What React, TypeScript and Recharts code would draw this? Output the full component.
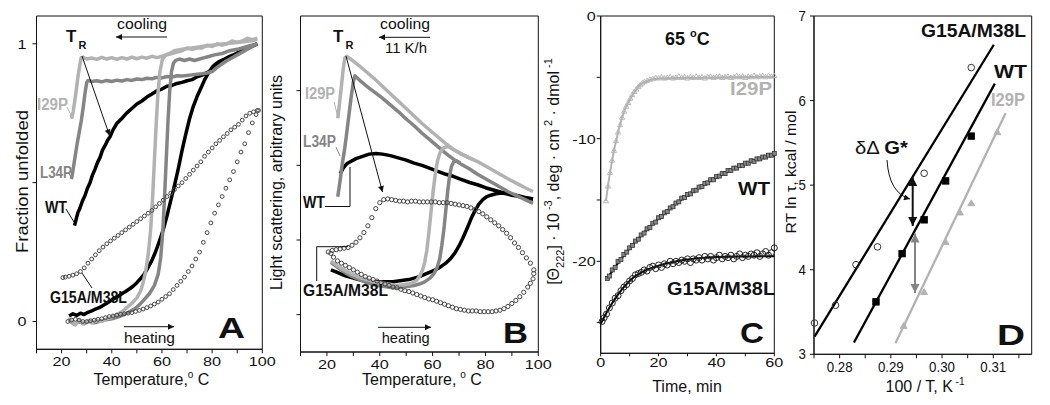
import React from 'react';
import { ComposedChart, Line, Scatter, XAxis, YAxis, ReferenceArea } from 'recharts';

const W = 1050;
const H = 405;
const FONT = "'Liberation Sans', Arial, Helvetica, sans-serif";
const LIGHT = '#b2b2b2';
const MID = '#858585';
const INK = '#111';

type Pt = [number, number];

// ---------- Panel A: fraction unfolded vs temperature ----------
const aI29PCool: Pt[] = [
  [98, 1.02], [96, 1.015], [94, 1.02], [92, 1.01], [90, 1.005], [88, 1.01], [86, 1.0], [84, 0.995],
  [82, 1.0], [80, 0.99], [78, 0.995], [76, 0.985], [74, 0.985], [72, 0.98], [70, 0.985], [68, 0.975],
  [66, 0.97], [64, 0.965], [62, 0.96], [60, 0.955], [58, 0.95], [56, 0.955], [54, 0.948], [52, 0.952],
  [50, 0.946], [48, 0.952], [46, 0.945], [44, 0.95], [42, 0.944], [40, 0.95], [38, 0.945], [36, 0.951],
  [34, 0.944], [32, 0.949], [30, 0.945], [28.5, 0.952], [27.8, 0.95], [27.2, 0.92], [26.5, 0.88],
  [25.8, 0.83], [25.2, 0.79], [24.6, 0.755], [24.1, 0.735], [23.9, 0.745],
];
const aI29PHeat: Pt[] = [
  [22.5, 0.012], [24, 0.0], [25.5, -0.012], [27, 0.005], [28.5, -0.008], [30, 0.0], [32, -0.005],
  [34, 0.004], [36, 0.0], [38, 0.01], [40, 0.015], [42, 0.025], [44, 0.035], [46, 0.05], [48, 0.065],
  [50, 0.085], [51.5, 0.11], [52.5, 0.14], [53.5, 0.18], [54.5, 0.24], [55.5, 0.33], [56.3, 0.45],
  [57, 0.58], [57.7, 0.71], [58.4, 0.82], [59.2, 0.9], [60.2, 0.945], [61.5, 0.96], [63, 0.965],
  [65, 0.975], [68, 0.98], [72, 0.985], [76, 0.99], [80, 0.995], [85, 1.0], [90, 1.005], [95, 1.01], [98, 1.015],
];
const aL34PCool: Pt[] = [
  [98, 1.0], [96, 0.99], [94, 0.98], [92, 0.97], [90, 0.96], [88, 0.95], [86, 0.94], [84, 0.928],
  [82, 0.915], [80, 0.9], [78, 0.895], [76, 0.892], [74, 0.89], [72, 0.888], [70, 0.886], [68, 0.884],
  [66, 0.885], [64, 0.88], [62, 0.882], [60, 0.877], [58, 0.879], [56, 0.874], [54, 0.876], [52, 0.871],
  [50, 0.873], [48, 0.868], [46, 0.871], [44, 0.866], [42, 0.869], [40, 0.864], [38, 0.868], [36, 0.863],
  [34, 0.867], [32, 0.864], [30.5, 0.868], [30, 0.86], [29.3, 0.82], [28.6, 0.77], [27.8, 0.72],
  [27, 0.68], [26.2, 0.64], [25.5, 0.6], [24.8, 0.56], [24.2, 0.525], [23.9, 0.513],
];
const aL34PHeat: Pt[] = [
  [23, 0.005], [25, -0.01], [27, 0.0], [29, -0.008], [31, 0.002], [33, -0.005], [35, 0.0], [37, 0.005],
  [39, 0.008], [41, 0.012], [43, 0.018], [45, 0.025], [47, 0.035], [49, 0.045], [51, 0.06], [53, 0.08],
  [55, 0.1], [57, 0.13], [58.5, 0.17], [59.5, 0.23], [60.3, 0.32], [61, 0.44], [61.7, 0.58], [62.4, 0.72],
  [63.1, 0.83], [63.8, 0.9], [64.6, 0.93], [65.5, 0.94], [67, 0.945], [69, 0.94], [71, 0.945], [73, 0.94],
  [75, 0.945], [77, 0.95], [79, 0.955], [81, 0.96], [84, 0.965], [87, 0.975], [90, 0.98], [94, 0.99], [98, 1.0],
];
const aWTCool: Pt[] = [
  [98, 1.0], [96, 0.993], [94, 0.985], [92, 0.975], [90, 0.966], [88, 0.955], [86, 0.946], [84, 0.932],
  [82, 0.921], [80, 0.905], [78, 0.896], [76, 0.887], [74, 0.881], [72, 0.871], [70, 0.867], [68, 0.861],
  [66, 0.857], [64, 0.85], [62, 0.847], [60, 0.837], [58, 0.831], [56, 0.819], [54, 0.808], [52, 0.794],
  [50, 0.783], [48, 0.767], [46, 0.751], [44, 0.731], [42, 0.713], [40.5, 0.69], [39.3, 0.665],
  [38.3, 0.652], [37.3, 0.633], [36.3, 0.617], [35.3, 0.59], [34.3, 0.572], [33.3, 0.548], [32.3, 0.527],
  [31.3, 0.499], [30.3, 0.48], [29.3, 0.453], [28.3, 0.434], [27.3, 0.408], [26.5, 0.392], [25.8, 0.368],
  [25.3, 0.35], [25.1, 0.345],
];
const aWTHeat: Pt[] = [
  [23, 0.02], [24.5, 0.028], [26, 0.022], [27.5, 0.03], [29, 0.025], [30.5, 0.033], [32, 0.038],
  [33.5, 0.045], [35, 0.05], [36.5, 0.058], [38, 0.066], [39.5, 0.075], [41, 0.083], [42.5, 0.09],
  [44, 0.1], [45.5, 0.108], [47, 0.117], [48.5, 0.127], [50, 0.14], [51.5, 0.155], [53, 0.172],
  [54.5, 0.195], [56, 0.22], [57.5, 0.252], [59, 0.29], [60.5, 0.33], [62, 0.38], [63.5, 0.435],
  [65, 0.49], [66.5, 0.55], [68, 0.615], [69.5, 0.675], [71, 0.73], [72.5, 0.775], [74, 0.81],
  [75.5, 0.84], [77, 0.87], [78.5, 0.895], [80, 0.915], [81.5, 0.928], [83, 0.937], [85, 0.945],
  [87, 0.955], [89, 0.962], [91, 0.97], [93, 0.978], [95, 0.987], [97, 0.995], [98, 1.0],
];
const aG15AHeat: Pt[] = [
  [22.5, 0.0], [24, 0.005], [25.5, 0.008], [27, 0.005], [28.5, 0.0], [30, 0.0], [31.5, 0.003], [33, 0.005],
  [34.5, 0.008], [36, 0.01], [37.5, 0.014], [39, 0.018], [40.5, 0.02], [42, 0.023], [43.5, 0.026],
  [45, 0.028], [46.5, 0.03], [48, 0.032], [49.5, 0.036], [51, 0.04], [52.5, 0.045], [54, 0.05],
  [55.5, 0.056], [57, 0.063], [58.5, 0.07], [60, 0.08], [61.5, 0.09], [63, 0.1], [64.5, 0.115],
  [66, 0.13], [67.5, 0.145], [69, 0.16], [70.5, 0.18], [72, 0.2], [73.5, 0.225], [75, 0.25],
  [76.5, 0.285], [78, 0.32], [79.5, 0.355], [81, 0.39], [82.5, 0.42], [84, 0.45], [85.5, 0.48],
  [87, 0.51], [88.5, 0.54], [90, 0.575], [91.5, 0.61], [93, 0.64], [94.5, 0.68], [96, 0.715],
  [97.5, 0.745], [98.5, 0.76],
];
const aG15ACool: Pt[] = [
  [98, 0.76], [96.5, 0.755], [95, 0.75], [93.5, 0.74], [92, 0.725], [90.5, 0.71], [89, 0.7], [87.5, 0.69],
  [86, 0.677], [84.5, 0.665], [83, 0.652], [81.5, 0.64], [80, 0.625], [78.5, 0.61], [77, 0.595],
  [75.5, 0.575], [74, 0.56], [72.5, 0.545], [71, 0.53], [69.5, 0.515], [68, 0.5], [66.5, 0.488],
  [65, 0.475], [63.5, 0.462], [62, 0.45], [60.5, 0.437], [59, 0.425], [57.5, 0.413], [56, 0.4],
  [54.5, 0.39], [53, 0.38], [51.5, 0.37], [50, 0.36], [48.5, 0.35], [47, 0.34], [45.5, 0.33], [44, 0.32],
  [42.5, 0.31], [41, 0.3], [39.5, 0.29], [38, 0.28], [36.5, 0.268], [35, 0.255], [33.5, 0.24],
  [32, 0.225], [30.5, 0.21], [29, 0.193], [27.5, 0.18], [26, 0.172], [24.5, 0.167], [23, 0.163],
  [21.5, 0.16], [20.5, 0.158],
];

// ---------- Panel B: light scattering vs temperature ----------
const bI29PCool: Pt[] = [
  [98, 2.65], [95, 2.7], [92, 2.755], [89, 2.81], [86, 2.87], [83, 2.93], [80, 2.99], [77, 3.05],
  [74, 3.1], [71, 3.15], [68, 3.21], [65, 3.29], [62, 3.38], [59, 3.47], [56, 3.56], [53, 3.66],
  [50, 3.76], [47, 3.86], [44, 3.96], [41, 4.06], [38, 4.16], [35, 4.25], [32, 4.34], [29.5, 4.41],
  [27.5, 4.46], [26.8, 4.44], [26.2, 4.3], [25.6, 4.1], [25, 3.9], [24.5, 3.75], [24.1, 3.63],
];
const bI29PHeat: Pt[] = [
  [21.5, 1.72], [23, 1.68], [25, 1.63], [27, 1.59], [29, 1.55], [31, 1.52], [33, 1.49], [35, 1.47],
  [37, 1.45], [39, 1.43], [41, 1.42], [43, 1.41], [45, 1.4], [47, 1.39], [49, 1.4], [51, 1.41],
  [52.5, 1.43], [54, 1.46], [55.2, 1.52], [56.2, 1.6], [57, 1.7], [57.8, 1.86], [58.6, 2.1],
  [59.4, 2.38], [60.2, 2.65], [61, 2.88], [61.8, 3.05], [62.8, 3.17], [64, 3.23], [65.3, 3.25],
  [66.5, 3.24], [68, 3.21], [70, 3.17], [72, 3.13], [75, 3.08],
];
const bL34PCool: Pt[] = [
  [98, 2.49], [95, 2.54], [92, 2.59], [89, 2.64], [86, 2.7], [83, 2.76], [80, 2.82], [77, 2.88],
  [74, 2.95], [71, 3.01], [68, 3.08], [65, 3.16], [62, 3.25], [59, 3.34], [56, 3.43], [53, 3.53],
  [50, 3.62], [47, 3.72], [44, 3.81], [41, 3.9], [38, 3.98], [35, 4.06], [33, 4.12], [31.5, 4.17],
  [30.6, 4.2], [30, 4.12], [29.3, 3.95], [28.6, 3.75], [27.9, 3.55], [27.2, 3.35], [26.5, 3.17],
  [25.8, 3.02], [25.2, 2.85], [24.6, 2.7], [24.1, 2.58],
];
const bL34PHeat: Pt[] = [
  [21.5, 1.7], [23, 1.66], [25, 1.61], [27, 1.56], [29, 1.52], [31, 1.49], [33, 1.46], [35, 1.43],
  [37, 1.41], [39, 1.39], [41, 1.38], [43, 1.37], [45, 1.36], [47, 1.36], [49, 1.37], [51, 1.38],
  [53, 1.39], [55, 1.41], [57, 1.44], [59, 1.49], [60.5, 1.55], [61.7, 1.63], [62.7, 1.75],
  [63.5, 1.93], [64.3, 2.15], [65, 2.4], [65.7, 2.65], [66.4, 2.85], [67.1, 2.98], [68, 3.05],
  [69, 3.06], [70.5, 3.03],
];
const bWTCool: Pt[] = [
  [98, 2.55], [95, 2.57], [92, 2.595], [89, 2.62], [86, 2.64], [83, 2.67], [80, 2.7], [77, 2.74],
  [74, 2.77], [71, 2.81], [68, 2.85], [65, 2.88], [62, 2.92], [59, 2.96], [56, 3.0], [53, 3.03],
  [50, 3.07], [47, 3.1], [44, 3.13], [41, 3.15], [38.5, 3.16], [36, 3.15], [33.5, 3.12], [31, 3.09],
  [29, 3.05], [27.5, 3.02], [26.3, 2.97], [25.5, 2.92], [25, 2.89],
];
const bWTHeat: Pt[] = [
  [21.5, 1.6], [23, 1.58], [25, 1.55], [27, 1.52], [29, 1.5], [31, 1.48], [33, 1.46], [35, 1.45],
  [37, 1.44], [39, 1.44], [41, 1.44], [43, 1.44], [45, 1.44], [47, 1.45], [49, 1.46], [51, 1.47],
  [53, 1.49], [55, 1.51], [57, 1.54], [59, 1.57], [61, 1.6], [63, 1.64], [65, 1.69], [67, 1.76],
  [68.5, 1.83], [70, 1.92], [71.5, 2.03], [73, 2.15], [74.5, 2.28], [76, 2.39], [77.5, 2.48],
  [79, 2.54], [80.5, 2.58], [82, 2.6], [84, 2.62], [86, 2.63], [88, 2.62], [90, 2.6], [92, 2.59],
  [94, 2.57], [96, 2.56], [98, 2.55],
];
const bG15AUp: Pt[] = [
  [20.5, 1.84], [22, 1.86], [23.5, 1.87], [25, 1.88], [26.5, 1.89], [28, 1.9], [29.5, 1.93], [31, 1.97],
  [32.5, 2.03], [34, 2.1], [35.5, 2.19], [37, 2.3], [38.5, 2.42], [40, 2.5], [41.5, 2.54], [43, 2.55],
  [44.5, 2.54], [46, 2.53], [47.5, 2.52], [49, 2.52], [50.5, 2.51], [52, 2.52], [53.5, 2.52],
  [55, 2.51], [56.5, 2.51], [58, 2.51], [59.5, 2.51], [61, 2.51], [62.5, 2.5], [64, 2.5], [65.5, 2.5],
  [67, 2.49], [68.5, 2.48], [70, 2.47], [71.5, 2.46], [73, 2.45], [74.5, 2.43], [76, 2.41],
  [77.5, 2.38], [79, 2.35], [80.5, 2.31], [82, 2.27], [83.5, 2.23], [85, 2.19], [86.5, 2.14],
  [88, 2.09], [89.5, 2.03], [91, 1.96], [92.5, 1.9], [94, 1.83], [95.5, 1.76], [97, 1.69], [98.3, 1.6],
];
const bG15ADown: Pt[] = [
  [98.3, 1.55], [98, 1.48], [97, 1.42], [96, 1.37], [94.5, 1.3], [93, 1.24], [91.5, 1.19], [90, 1.15],
  [88.5, 1.11], [87, 1.08], [85.5, 1.06], [84, 1.05], [82.5, 1.04], [81, 1.04], [79.5, 1.04],
  [78, 1.04], [76.5, 1.05], [75, 1.05], [73.5, 1.05], [72, 1.06], [70.5, 1.07], [69, 1.08],
  [67.5, 1.1], [66, 1.12], [64.5, 1.14], [63, 1.16], [61.5, 1.18], [60, 1.2], [58.5, 1.21],
  [57, 1.23], [55.5, 1.25], [54, 1.27], [52.5, 1.29], [51, 1.31], [49.5, 1.32], [48, 1.34],
  [46.5, 1.36], [45, 1.37], [43.5, 1.39], [42, 1.41], [40.5, 1.43], [39, 1.45], [37.5, 1.47],
  [36, 1.49], [34.5, 1.51], [33, 1.54], [31.5, 1.57], [30, 1.6], [28.5, 1.63], [27, 1.66],
  [25.5, 1.69], [24, 1.72], [22.5, 1.77], [21.5, 1.82],
];

// ---------- Panel C: ellipticity kinetics at 65 °C ----------
const cI29PData: Pt[] = [
  [1.8, -15.1], [2.5, -13.9], [3.2, -12.8], [3.9, -11.8], [4.6, -11.0], [5.3, -10.2], [6, -9.5],
  [6.7, -8.9], [7.4, -8.3], [8.1, -7.8], [8.8, -7.4], [9.5, -7.1], [10.2, -6.75], [10.9, -6.45],
  [11.6, -6.2], [12.3, -6.0], [13, -5.8], [13.7, -5.65], [14.4, -5.5], [15.1, -5.4], [16, -5.3],
  [17, -5.2], [18, -5.15], [19, -5.05], [20, -5.1], [21, -5.0], [22, -5.1], [23, -5.05], [24, -5.0],
  [25, -5.1], [26, -5.05], [27, -4.95], [28, -5.05], [29, -5.0], [30, -5.1], [31, -5.0], [32, -5.05],
  [33, -4.95], [34, -5.05], [35, -5.0], [36, -5.1], [37, -5.0], [38, -4.95], [39, -5.05], [40, -5.0],
  [41, -4.95], [42, -5.05], [43, -5.0], [44, -4.95], [45, -5.05], [46, -5.0], [47, -4.9], [48, -5.0],
  [49, -4.95], [50, -5.05], [51, -4.95], [52, -5.0], [53, -4.9], [54, -5.0], [55, -4.95], [56, -4.9],
  [57, -5.0], [58, -4.9], [59, -4.95], [60, -4.9],
];
const cI29PFit: Pt[] = [
  [1.8, -15.1], [3, -13.1], [4.5, -11.1], [6, -9.5], [8, -7.85], [10, -6.85], [12, -6.1], [14, -5.55],
  [16, -5.3], [20, -5.1], [30, -5.05], [45, -5.0], [60, -4.95],
];
const cWTData: Pt[] = [
  [2.3, -21.4], [3, -21.2], [4, -20.7], [5, -20.5], [6, -20.0], [7, -19.85], [8, -19.45], [9, -19.25],
  [10, -18.9], [11, -18.7], [12, -18.35], [13, -18.2], [14, -17.85], [15, -17.7], [16, -17.35],
  [17, -17.25], [18, -16.9], [19, -16.8], [20, -16.45], [21, -16.35], [22, -16.05], [23, -15.95],
  [24, -15.65], [25, -15.55], [26, -15.25], [27, -15.15], [28, -14.85], [29, -14.8], [30, -14.55],
  [31, -14.5], [32, -14.25], [33, -14.2], [34, -13.95], [35, -13.9], [36, -13.65], [37, -13.6],
  [38, -13.35], [39, -13.35], [40, -13.1], [41, -13.05], [42, -12.85], [43, -12.85], [44, -12.6],
  [45, -12.6], [46, -12.4], [47, -12.4], [48, -12.2], [49, -12.2], [50, -12.0], [51, -12.0],
  [52, -11.8], [53, -11.85], [54, -11.65], [55, -11.65], [56, -11.5], [57, -11.5], [58, -11.35],
  [59, -11.35], [60, -11.2],
];
const cWTFit: Pt[] = [
  [2, -21.5], [5, -20.45], [10, -18.95], [15, -17.65], [20, -16.5], [25, -15.5], [30, -14.6],
  [35, -13.85], [40, -13.15], [45, -12.55], [50, -12.05], [55, -11.6], [60, -11.25],
];
const cG15AData: Pt[] = [
  [0.5, -24.9], [1.2, -24.6], [2, -24.3], [3, -23.8], [4, -23.4], [5, -23.0], [6, -22.8], [7, -22.4],
  [8, -22.1], [9, -21.9], [10, -21.6], [11, -21.4], [12, -21.1], [13, -21.0], [14, -20.9], [15, -20.7],
  [16, -20.8], [17, -20.5], [18, -20.4], [19, -20.6], [20, -20.3], [21, -20.5], [22, -20.2],
  [23, -20.3], [24, -20.0], [25, -20.2], [26, -20.0], [27, -20.1], [28, -19.9], [29, -20.0],
  [30, -19.8], [31, -20.1], [32, -19.8], [33, -19.9], [34, -19.7], [35, -19.9], [36, -19.6],
  [37, -19.8], [38, -19.6], [39, -19.9], [40, -19.7], [41, -19.5], [42, -19.8], [43, -19.6],
  [44, -19.7], [45, -19.5], [46, -19.8], [47, -19.6], [48, -19.4], [49, -19.7], [50, -19.5],
  [51, -19.6], [52, -19.4], [53, -19.5], [54, -19.3], [55, -19.6], [56, -19.4], [57, -19.2],
  [58, -19.5], [59, -19.3], [60, -18.9],
];
const cG15AFit: Pt[] = [
  [0, -25.1], [2, -24.2], [4, -23.4], [6, -22.7], [8, -22.1], [10, -21.6], [12, -21.2], [15, -20.8],
  [20, -20.35], [25, -20.05], [30, -19.85], [35, -19.72], [40, -19.65], [50, -19.6], [60, -19.58],
];

// ---------- Panel D: RT ln tau vs 100/T ----------
const dG15APts: Pt[] = [[0.2751, 3.37], [0.2792, 3.58], [0.2832, 4.06], [0.2874, 4.27], [0.2965, 5.14], [0.3057, 6.39]];
const dG15AFit: Pt[] = [[0.2751, 3.21], [0.3101, 6.66]];
const dWTPts: Pt[] = [[0.2871, 3.62], [0.2922, 4.19], [0.2965, 4.59], [0.3007, 5.05], [0.3057, 5.58]];
const dWTFit: Pt[] = [[0.2828, 3.14], [0.3103, 6.2]];
const dI29PPts: Pt[] = [[0.2925, 3.33], [0.2965, 3.73], [0.3007, 4.32], [0.3035, 4.67], [0.3057, 4.78], [0.3108, 5.62]];
const dI29PFit: Pt[] = [[0.2909, 3.13], [0.3124, 5.85]];

// axis ticks
const tempTicks = [10, 20, 30, 40, 50, 60, 70, 80, 90, 100];
const aYTicks = [0, 0.5, 1];
const bYTicks = [1, 2, 3, 4];
const cXTicks = [0, 10, 20, 30, 40, 50, 60];
const cYTicks = [-25, -20, -15, -10, -5, 0];
const dXTicks = [0.275, 0.28, 0.285, 0.29, 0.295, 0.3, 0.305, 0.31, 0.315];
const dYTicks = [3, 4, 5, 6, 7];

const xy = (pts: Pt[]) => pts.map(([x, y]) => ({ x, y }));

// plot rectangles (px) and domains
type Box = { l: number; r: number; t: number; b: number; xd: [number, number]; yd: [number, number] };
const boxA: Box = { l: 36.5, r: 262.3, t: 16, b: 349.3, xd: [10, 100], yd: [-0.1, 1.1] };
const boxB: Box = { l: 300.5, r: 538.3, t: 16, b: 352, xd: [10, 100], yd: [0.5, 5] };
const boxC: Box = { l: 600.7, r: 774.3, t: 16, b: 353.3, xd: [0, 60], yd: [-27.5, 0] };
const boxD: Box = { l: 814, r: 1031.7, t: 16, b: 354.3, xd: [0.275, 0.3175], yd: [3, 7] };

const AXW = 30; // y-axis width
const AXH = 30; // x-axis height

type Fmt = (v: number) => string;

// tick labels in the source are a little wider than Arial, so stretch them horizontally
const xTickLabel = (fmt: Fmt, size: number, sx: number) => (p: any) => (
  <text transform={`translate(${p.x},${p.y}) scale(${sx},1)`} textAnchor="middle" dy="0.71em" fontSize={size} fill={INK}>
    {fmt(p.payload.value)}
  </text>
);
const yTickLabel = (fmt: Fmt, size: number, sx: number) => (p: any) => (
  <text transform={`translate(${p.x},${p.y}) scale(${sx},1)`} textAnchor="end" dy="0.36em" fontSize={size} fill={INK}>
    {fmt(p.payload.value)}
  </text>
);

const openCircle = (r: number, stroke: string) => (p: any) => (
  <circle cx={p.cx} cy={p.cy} r={r} fill="none" stroke={stroke} strokeWidth={1} />
);
const square = (s: number, fill: string, stroke: string) => (p: any) => (
  <rect x={p.cx - s / 2} y={p.cy - s / 2} width={s} height={s} fill={fill} stroke={stroke} strokeWidth={0.8} />
);
const triangle = (s: number, fill: string, stroke: string) => (p: any) => (
  <polygon
    points={`${p.cx},${p.cy - s} ${p.cx - s * 0.87},${p.cy + s / 2} ${p.cx + s * 0.87},${p.cy + s / 2}`}
    fill={fill}
    stroke={stroke}
    strokeWidth={0.9}
  />
);

type PanelProps = {
  box: Box;
  xTicks: number[];
  yTicks: number[];
  xFmt: Fmt;
  yFmt: Fmt;
  xTick: [number, number];
  yTick: [number, number];
  font: [number, number];
  children: React.ReactNode;
};

function Panel({ box, xTicks, yTicks, xFmt, yFmt, xTick, yTick, font, children }: PanelProps) {
  return (
    <div style={{ position: 'absolute', left: 0, top: 0 }}>
      <ComposedChart
        width={W}
        height={H}
        margin={{ top: box.t, left: box.l - AXW, right: W - box.r, bottom: H - box.b - AXH }}
      >
        <XAxis
          type="number"
          dataKey="x"
          domain={box.xd}
          ticks={xTicks}
          interval={0}
          height={AXH}
          tickSize={xTick[0]}
          tickMargin={xTick[1]}
          tick={xTickLabel(xFmt, font[0], font[1])}
          tickLine={{ stroke: INK }}
          axisLine={{ stroke: INK }}
        />
        <YAxis
          type="number"
          dataKey="y"
          domain={box.yd}
          ticks={yTicks}
          interval={0}
          width={AXW}
          tickSize={yTick[0]}
          tickMargin={yTick[1]}
          tick={yTickLabel(yFmt, font[0], font[1])}
          tickLine={{ stroke: INK }}
          axisLine={{ stroke: INK }}
        />
        {children}
        <ReferenceArea
          x1={box.xd[0]}
          x2={box.xd[1]}
          y1={box.yd[0]}
          y2={box.yd[1]}
          fill="none"
          fillOpacity={0}
          stroke={INK}
          strokeWidth={1}
          ifOverflow="visible"
        />
      </ComposedChart>
    </div>
  );
}

const curve = (pts: Pt[], stroke: string, width: number, type: 'linear' | 'monotone' = 'linear') => (
  <Line
    data={xy(pts)}
    dataKey="y"
    type={type}
    stroke={stroke}
    strokeWidth={width}
    strokeLinejoin="round"
    dot={false}
    activeDot={false}
    isAnimationActive={false}
  />
);

function Txt(props: {
  x: number; y: number; s: number; w?: number; bold?: boolean; fill?: string;
  anchor?: 'start' | 'middle' | 'end'; rot?: boolean; children: React.ReactNode;
}) {
  const { x, y, s, w, bold, fill = INK, anchor = 'start', rot, children } = props;
  return (
    <text
      x={x}
      y={y}
      fontSize={s}
      fontWeight={bold ? 'bold' : 'normal'}
      fill={fill}
      textAnchor={anchor}
      textLength={w}
      lengthAdjust={w ? 'spacingAndGlyphs' : undefined}
      transform={rot ? `rotate(-90 ${x} ${y})` : undefined}
    >
      {children}
    </text>
  );
}

function Overlay() {
  const ln = { stroke: INK, strokeWidth: 1 };
  return (
    <svg width={W} height={H} style={{ position: 'absolute', left: 0, top: 0, pointerEvents: 'none' }}>
      <defs>
        <marker id="ah" viewBox="0 0 10 10" refX="10" refY="5" markerUnits="userSpaceOnUse" markerWidth="8" markerHeight="6" orient="auto-start-reverse">
          <path d="M0,0 L10,5 L0,10 z" fill={INK} />
        </marker>
        <marker id="ahBig" viewBox="0 0 10 10" refX="10" refY="5" markerUnits="userSpaceOnUse" markerWidth="9" markerHeight="9" orient="auto-start-reverse">
          <path d="M0,0 L10,5 L0,10 z" fill={INK} />
        </marker>
        <marker id="ahGray" viewBox="0 0 10 10" refX="10" refY="5" markerUnits="userSpaceOnUse" markerWidth="9" markerHeight="9" orient="auto-start-reverse">
          <path d="M0,0 L10,5 L0,10 z" fill={MID} />
        </marker>
      </defs>

      {/* Panel A */}
      <Txt x={66} y={42} s={17} bold>T</Txt>
      <Txt x={78.5} y={48.5} s={11} bold>R</Txt>
      <Txt x={117} y={29} s={15} w={50}>cooling</Txt>
      <line x1={167} y1={37} x2={116} y2={37} {...ln} markerEnd="url(#ah)" />
      <line x1={82} y1={56} x2={109.5} y2={135.5} {...ln} markerEnd="url(#ah)" />
      <Txt x={37} y={110} s={16} w={31} bold fill={LIGHT}>I29P</Txt>
      <line x1={67} y1={107} x2={71.5} y2={116} stroke={LIGHT} strokeWidth={1} />
      <Txt x={40} y={178} s={16} w={32} bold fill={MID}>L34P</Txt>
      <line x1={68.5} y1={172} x2={71} y2={178} stroke={MID} strokeWidth={1} />
      <Txt x={45} y={213} s={16} w={22} bold>WT</Txt>
      <line x1={66} y1={209} x2={74} y2={222} {...ln} />
      <Txt x={50} y={303} s={16} w={77} bold>G15A/M38L</Txt>
      <line x1={82} y1={273} x2={92} y2={288} {...ln} />
      <Txt x={124} y={343} s={15} w={51}>heating</Txt>
      <line x1={124} y1={326.7} x2={174} y2={326.7} {...ln} markerEnd="url(#ah)" />
      <Txt x={218} y={338} s={30} w={27} bold>A</Txt>
      <Txt x={28} y={181.5} s={16} w={143} anchor="middle" rot>Fraction unfolded</Txt>
      <text x={151.5} y={385} fontSize={16} textAnchor="middle" fill={INK}>
        Temperature,<tspan dy={-7} fontSize={10}>o</tspan><tspan dy={7}> C</tspan>
      </text>

      {/* Panel B */}
      <Txt x={333} y={42} s={17} bold>T</Txt>
      <Txt x={345.5} y={49} s={11} bold>R</Txt>
      <Txt x={380} y={29} s={15} w={50}>cooling</Txt>
      <line x1={430} y1={37.3} x2={379} y2={37.3} {...ln} markerEnd="url(#ah)" />
      <Txt x={385} y={52.5} s={15} w={42}>11 K/h</Txt>
      <line x1={346} y1={56} x2={382.5} y2={192} {...ln} markerEnd="url(#ah)" />
      <Txt x={305} y={99} s={16} w={30} bold fill={LIGHT}>I29P</Txt>
      <line x1={334} y1={102} x2={338} y2={117} stroke={LIGHT} strokeWidth={1} />
      <Txt x={303} y={146.5} s={16} w={33} bold fill={MID}>L34P</Txt>
      <line x1={336} y1={147} x2={340} y2={156} stroke={MID} strokeWidth={1} />
      <Txt x={303} y={208} s={16} w={22} bold>WT</Txt>
      <path d="M325,206.5 H350 V167" fill="none" {...ln} />
      <Txt x={303} y={296} s={16} w={85} bold>G15A/M38L</Txt>
      <path d="M316.7,281 V246.7 H348" fill="none" {...ln} />
      <Txt x={381.7} y={343} s={15} w={48}>heating</Txt>
      <line x1={378} y1={327.3} x2={431} y2={327.3} {...ln} markerEnd="url(#ah)" />
      <Txt x={503} y={343} s={30} w={25} bold>B</Txt>
      <Txt x={282} y={182.5} s={16} w={215} anchor="middle" rot>Light scattering, arbitrary units</Txt>
      <text x={422} y={385} fontSize={16} textAnchor="middle" fill={INK}>
        Temperature,<tspan dx={4} dy={-7} fontSize={10}>o</tspan><tspan dy={7}> C</tspan>
      </text>

      {/* Panel C */}
      <text x={665} y={45} fontSize={18} fontWeight="bold" fill={INK}>
        65 <tspan dy={-8} fontSize={11}>o</tspan><tspan dy={8}>C</tspan>
      </text>
      <Txt x={730} y={95} s={19} w={42} bold fill={LIGHT}>I29P</Txt>
      <Txt x={738} y={195} s={19} w={32} bold>WT</Txt>
      <Txt x={667} y={295} s={19} w={108} bold>G15A/M38L</Txt>
      <Txt x={740} y={343} s={30} w={24} bold>C</Txt>
      <text x={559} y={171.5} fontSize={16} textAnchor="middle" fill={INK} transform="rotate(-90 559 171.5)">
        [Θ<tspan dy={5} fontSize={11}>222</tspan><tspan dy={-5}>] {'\u00B7'} 10</tspan>
        <tspan dy={-7} fontSize={11}> -3</tspan><tspan dy={7}>, deg {'\u00B7'} cm</tspan>
        <tspan dy={-7} fontSize={11}> 2</tspan><tspan dy={7}> {'\u00B7'} dmol</tspan>
        <tspan dy={-7} fontSize={11}> -1</tspan>
      </text>
      <Txt x={687} y={392} s={16} anchor="middle">Time, min</Txt>

      {/* Panel D */}
      <Txt x={921} y={37} s={18} w={105} bold>G15A/M38L</Txt>
      <Txt x={994} y={78} s={18} w={33} bold>WT</Txt>
      <Txt x={991} y={106} s={18} w={34} bold fill={LIGHT}>I29P</Txt>
      <text x={855} y={154} fontSize={19} fill={INK} textLength={53} lengthAdjust="spacingAndGlyphs">
        δΔ <tspan fontWeight="bold">G*</tspan>
      </text>
      <path d="M887,160 Q889,193 910,199" fill="none" {...ln} markerEnd="url(#ah)" />
      <line x1={912.7} y1={177} x2={912.7} y2={226} stroke={INK} strokeWidth={2} markerStart="url(#ahBig)" markerEnd="url(#ahBig)" />
      <line x1={915} y1={233.5} x2={915} y2={293} stroke={MID} strokeWidth={2} markerStart="url(#ahGray)" markerEnd="url(#ahGray)" />
      <Txt x={997} y={345} s={30} w={28} bold>D</Txt>
      <Txt x={796} y={172} s={15} w={123} anchor="middle" rot>RT ln τ, kcal / mol</Txt>
      <text x={925} y={392} fontSize={16} textAnchor="middle" fill={INK}>
        100 / T, K<tspan dy={-7} fontSize={10}> -1</tspan>
      </text>
    </svg>
  );
}

export default function App() {
  return (
    <div style={{ position: 'absolute', left: 0, top: 0, width: W, height: H, background: '#fff', fontFamily: FONT }}>
      <Panel
        box={boxA}
        xTicks={tempTicks}
        yTicks={aYTicks}
        xFmt={(v) => (v % 20 === 0 ? String(v) : '')}
        yFmt={(v) => (v === 0.5 ? '' : String(v))}
        xTick={[4, 3]}
        yTick={[4, 6]}
        font={[13.5, 1.2]}
      >
        <Scatter data={xy(aG15AHeat)} dataKey="y" shape={openCircle(1.9, '#444')} isAnimationActive={false} />
        <Scatter data={xy(aG15ACool)} dataKey="y" shape={openCircle(1.9, '#444')} isAnimationActive={false} />
        {curve(aWTCool, '#000', 3.5)}
        {curve(aWTHeat, '#000', 3.5)}
        {curve(aL34PCool, MID, 3.5)}
        {curve(aL34PHeat, MID, 3.5)}
        {curve(aI29PCool, LIGHT, 3.5)}
        {curve(aI29PHeat, LIGHT, 3.5)}
      </Panel>

      <Panel
        box={boxB}
        xTicks={tempTicks}
        yTicks={bYTicks}
        xFmt={(v) => (v % 20 === 0 ? String(v) : '')}
        yFmt={() => ''}
        xTick={[4, 3]}
        yTick={[4, 4]}
        font={[13.5, 1.2]}
      >
        <Scatter data={xy(bG15AUp)} dataKey="y" shape={openCircle(2.1, '#444')} isAnimationActive={false} />
        <Scatter data={xy(bG15ADown)} dataKey="y" shape={openCircle(2.1, '#444')} isAnimationActive={false} />
        {curve(bWTCool, '#000', 3.5)}
        {curve(bWTHeat, '#000', 3.5)}
        {curve(bL34PCool, MID, 3.5)}
        {curve(bL34PHeat, MID, 3.5)}
        {curve(bI29PCool, LIGHT, 3.5)}
        {curve(bI29PHeat, LIGHT, 3.5)}
      </Panel>

      <Panel
        box={boxC}
        xTicks={cXTicks}
        yTicks={cYTicks}
        xFmt={(v) => (v % 20 === 0 ? String(v) : '')}
        yFmt={(v) => (v % 10 === 0 ? String(v) : '')}
        xTick={[3, 1]}
        yTick={[4, 1]}
        font={[13.5, 1.2]}
      >
        <Scatter data={xy(cI29PData)} dataKey="y" shape={triangle(3, 'none', LIGHT)} isAnimationActive={false} />
        {curve(cI29PFit, LIGHT, 2, 'monotone')}
        <Scatter data={xy(cWTData)} dataKey="y" shape={square(4, '#888', '#333')} isAnimationActive={false} />
        {curve(cWTFit, '#000', 2, 'monotone')}
        <Scatter data={xy(cG15AData)} dataKey="y" shape={openCircle(3, '#222')} isAnimationActive={false} />
        {curve(cG15AFit, '#000', 2, 'monotone')}
      </Panel>

      <Panel
        box={boxD}
        xTicks={dXTicks}
        yTicks={dYTicks}
        xFmt={(v) => (Math.round(v * 1000) % 10 === 0 ? v.toFixed(2) : '')}
        yFmt={(v) => String(v)}
        xTick={[4, 4]}
        yTick={[4, 4]}
        font={[14, 0.95]}
      >
        {curve(dG15AFit, '#000', 2.3)}
        {curve(dWTFit, '#000', 2.3)}
        {curve(dI29PFit, LIGHT, 2.3)}
        <Scatter data={xy(dG15APts)} dataKey="y" shape={openCircle(3.3, '#333')} isAnimationActive={false} />
        <Scatter data={xy(dWTPts)} dataKey="y" shape={square(6.5, '#000', '#000')} isAnimationActive={false} />
        <Scatter data={xy(dI29PPts)} dataKey="y" shape={triangle(4, LIGHT, LIGHT)} isAnimationActive={false} />
      </Panel>

      <Overlay />
    </div>
  );
}
